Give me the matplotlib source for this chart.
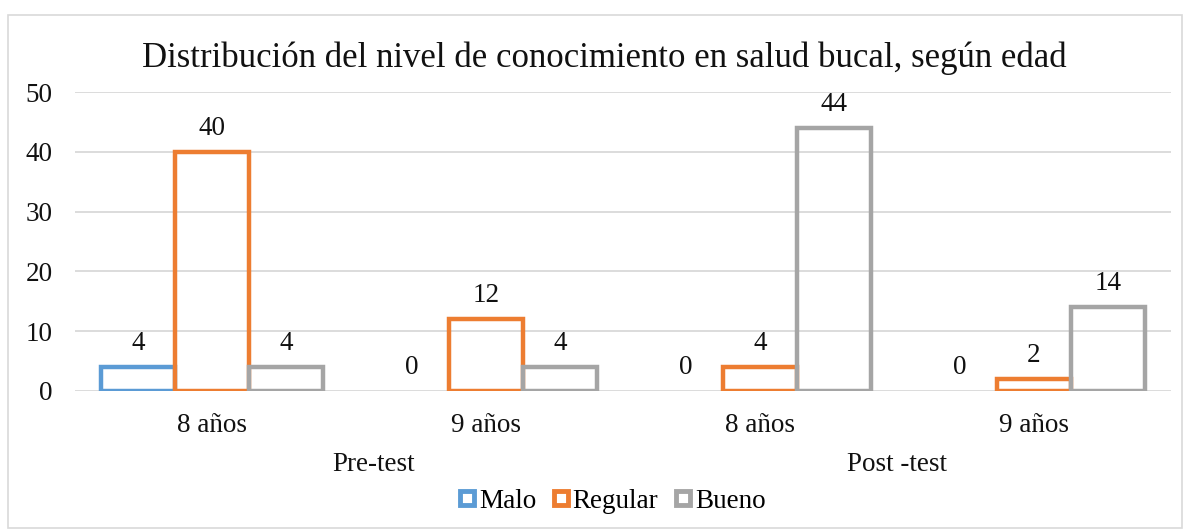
import numpy as np
import matplotlib.pyplot as plt
from matplotlib.patches import Rectangle
from matplotlib.lines import Line2D

plt.rcParams['font.family'] = ['Liberation Serif', 'DejaVu Serif']

# Data
edades = ['8 años', '9 años', '8 años', '9 años']
fases = ['Pre-test', 'Post -test']
niveles = ['Malo', 'Regular', 'Bueno']
malo = [4, 0, 0, 0]
regular = [40, 12, 4, 2]
bueno = [4, 4, 44, 14]
colores = ['#5B9BD5', '#ED7D31', '#A5A5A5']

fig = plt.figure(figsize=(11.9, 5.31), dpi=100)
ax = fig.add_axes([75 / 1190, 140 / 531, 1096 / 1190, 299 / 531])

# chart border
fig.patches.append(Rectangle((8 / 1190, 3 / 531), 1174 / 1190, 513 / 531,
                             transform=fig.transFigure, fill=False,
                             edgecolor='#d9d9d9', linewidth=1.2))

x = np.arange(len(edades))
w = 0.27
series = [malo, regular, bueno]
for i, (vals, col, nom) in enumerate(zip(series, colores, niveles)):
    pos = x + (i - 1) * w
    bars = ax.bar(pos, vals, w, facecolor='none', edgecolor=col,
                  linewidth=3.2, label=nom, zorder=3)
    for b, v in zip(bars, vals):
        if v == 0:
            b.set_linewidth(0)
        ax.annotate(str(v), (b.get_x() + w / 2, v), xytext=(0, 8),
                    textcoords='offset points', ha='center', va='bottom',
                    fontsize=19.5, color='#111111')

ax.set_xlim(-0.5, len(edades) - 0.5)
ax.set_ylim(0, 50)
ax.set_yticks(range(0, 51, 10))
ax.yaxis.grid(True, color='#d9d9d9', linewidth=1.3)
ax.set_axisbelow(True)
for s in ax.spines.values():
    s.set_visible(False)
ax.tick_params(axis='y', length=0, labelsize=19.5, pad=16, labelcolor='#111111')
ax.tick_params(axis='x', length=0, labelsize=19.5, pad=16, labelcolor='#111111')
ax.set_xticks(x)
ax.set_xticklabels(edades)

# grouping labels (Excel places "Pre-test" a bit right of centre)
for xp, f in zip([0.59, 2.5], fases):
    ax.text(xp, -0.245, f, transform=ax.get_xaxis_transform(),
            ha='center', va='center', fontsize=19.5, color='#111111')

fig.text(604 / 1190, 1 - 58 / 531,
         'Distribución del nivel de conocimiento en salud bucal, según edad',
         ha='center', va='center', fontsize=25, color='#111111')

handles = [Line2D([], [], marker='s', linestyle='none', markersize=10,
                  markerfacecolor='white', markeredgecolor=c, markeredgewidth=3.5)
           for c in colores]
fig.legend(handles, niveles, loc='center', bbox_to_anchor=(610 / 1190, 1 - 501 / 531),
           ncol=3, frameon=False, fontsize=19.5, handletextpad=0.0,
           columnspacing=0.45, handlelength=0.9)

fig.savefig('out.png', dpi=100)
